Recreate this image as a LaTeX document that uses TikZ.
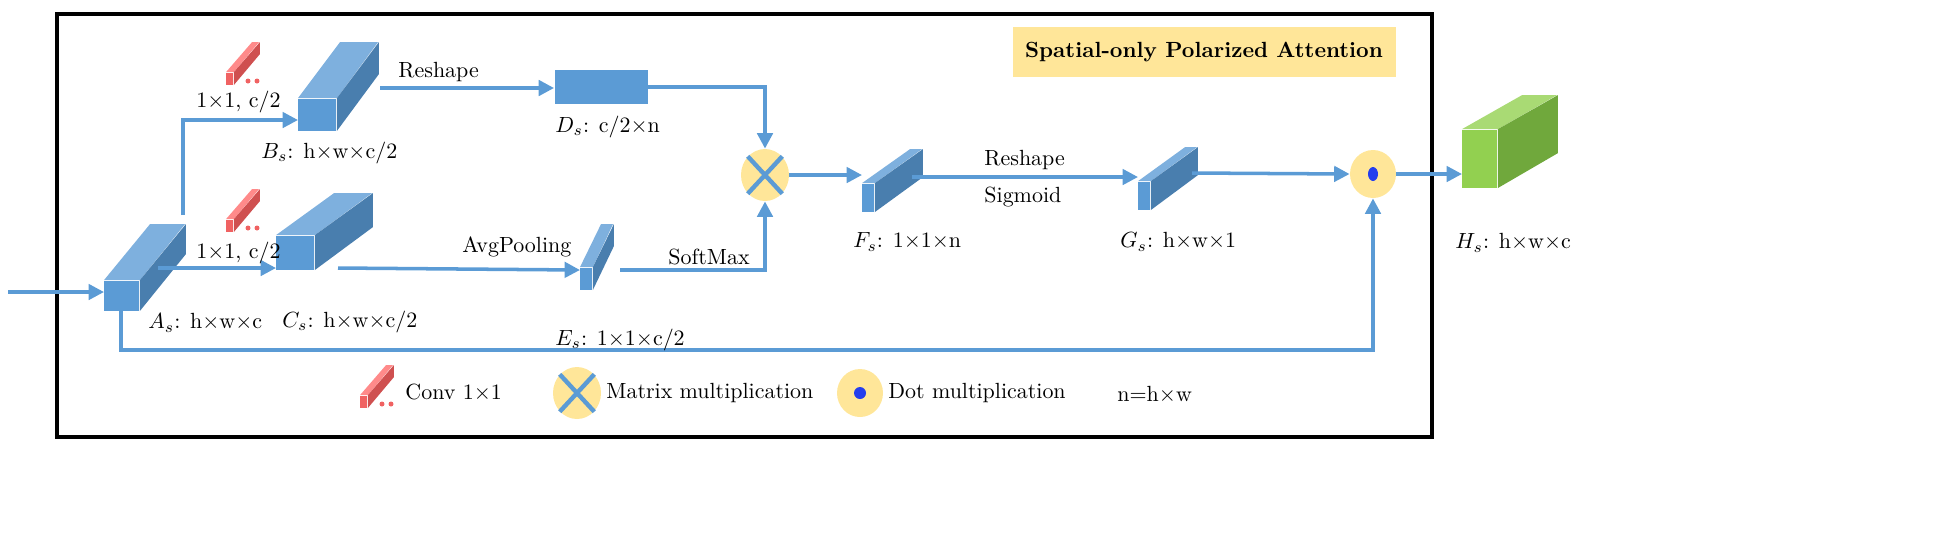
\documentclass[tikz,border=0pt]{standalone}
\usepackage{tikz}
\usetikzlibrary{positioning,arrows.meta,shapes.geometric,calc}

\definecolor{bfront}{HTML}{5B9BD5}
\definecolor{btop}{HTML}{7EB0DE}
\definecolor{bside}{HTML}{497EAE}
\definecolor{gfront}{HTML}{92D050}
\definecolor{gtop}{HTML}{A9DA74}
\definecolor{gside}{HTML}{70A83C}
\definecolor{rfront}{HTML}{F06262}
\definecolor{rtop}{HTML}{FF8A8A}
\definecolor{rside}{HTML}{CF5050}
\definecolor{pale}{HTML}{FFE699}
\newcommand{\px}{0.016cm}

% cuboid: name, x, y (front bottom-left), w, h, dx, dy (up), colour prefix
\newcommand{\cuboid}[8]{%
  \node[fill=#8front, inner sep=0, minimum width=#4*\px, minimum height=#5*\px,
        anchor=south west] (#1) at (#2,#3) {};
  \fill[#8top] (#1.north west) -- ++(#6,-#7) -- ++(#4,0) -- (#1.north east) -- cycle;
  \fill[#8side] (#1.north east) -- ++(#6,-#7) -- ++(0,#5) -- (#1.south east) -- cycle;
}
% conv icon with dots
\newcommand{\convicon}[3]{%
  \cuboid{#1}{#2}{#3}{7}{12}{26}{30}{r}
  \fill[rfront] (#2+22,#3-4) circle (2.5);
  \fill[rfront] (#2+31,#3-4) circle (2.5);
}

\begin{document}
\begin{tikzpicture}[x=\px,y=-\px,font=\fontsize{10}{12}\selectfont]
    \tikzstyle{flow}=[draw=bfront,line width=1.6pt,-{Triangle[length=7pt,width=7pt]}]
    \tikzstyle{op}=[ellipse,fill=pale,minimum width=48*\px,minimum height=52*\px,inner sep=0]
    \tikzstyle{cross}=[bfront,line width=2pt]
    \tikzstyle{lbl}=[anchor=west,inner sep=0]

    \useasboundingbox (0,0) rectangle (1950,559);
    \draw[line width=1.6pt] (57,14) rectangle (1432,437);
    \node[fill=pale,minimum width=383*\px,minimum height=50*\px,font=\fontsize{10}{12}\selectfont\bfseries]
        (title) at (1204,52) {Spatial-only Polarized Attention};

    % feature blocks
    \cuboid{A}{104}{311}{35}{30}{46}{56}{b}
    \cuboid{B}{298}{131}{38}{32}{42}{56}{b}
    \cuboid{C}{276}{270}{38}{34}{58}{42}{b}
    \node[fill=bfront,inner sep=0,minimum width=93*\px,minimum height=34*\px] (D) at (601,87) {};
    \cuboid{E}{580}{290}{12}{22}{21}{43}{b}
    \cuboid{F}{862}{212}{12}{28}{48}{34}{b}
    \cuboid{G}{1138}{210}{12}{28}{47}{34}{b}
    \cuboid{H}{1462}{188}{35}{58}{60}{34}{g}

    \convicon{k1}{226}{85}
    \convicon{k2}{226}{232}

    % operators
    \node[op] (mm) at (765,175) {};
    \draw[cross] (mm.north west) -- (mm.south east);
    \draw[cross] (mm.north east) -- (mm.south west);
    \node[op,minimum width=46*\px,minimum height=48*\px] (dm) at (1373,174) {};
    \fill[blue!60!bfront] (dm) ellipse (5 and 7);

    % connectors
    \coordinate (in) at (8,292);
    \coordinate (up) at (183,120);
    \coordinate (low) at (121,350);
    \draw[flow] (in) -- (in -| A.west);
    \draw[flow] (183,215) -- (up) -- (up -| B.west);
    \draw[flow] (158,268) -- (C.west |- 0,268);
    \draw[flow] (380,88) -- (D.west |- 0,88);
    \draw[flow] (338,268) -- (E.west |- 0,270);
    \draw[flow] (D.east |- 0,87) -- (mm.north |- 0,87) -- (mm.north);
    \draw[flow] (620,270) -- (mm.south |- 0,270) -- (mm.south);
    \draw[flow] (mm.east) -- (F.west |- mm.east);
    \draw[flow] (912,177) -- (G.west |- 0,177);
    \draw[flow] (1192,173) -- (dm.west);
    \draw[flow] (dm.east) -- (H.west |- dm.east);
    \draw[flow] (A.south -| low) -- (low) -- (dm.south |- low) -- (dm.south);

    % labels
    \node[lbl] at (196,102) {1$\times$1, c/2};
    \node[lbl] at (196,253) {1$\times$1, c/2};
    \node[lbl] at (398,72) {Reshape};
    \node[lbl] at (462,247) {AvgPooling};
    \node[lbl] at (668,257) {SoftMax};
    \node[lbl] at (984,160) {Reshape};
    \node[lbl] at (984,197) {Sigmoid};
    \node[lbl] at (148,323) {$A_s$: h$\times$w$\times$c};
    \node[lbl] at (261,153) {$B_s$: h$\times$w$\times$c/2};
    \node[lbl] at (282,322) {$C_s$: h$\times$w$\times$c/2};
    \node[lbl] at (555,127) {$D_s$: c/2$\times$n};
    \node[lbl] at (555,340) {$E_s$: 1$\times$1$\times$c/2};
    \node[lbl] at (853,242) {$F_s$: 1$\times$1$\times$n};
    \node[lbl] at (1120,242) {$G_s$: h$\times$w$\times$1};
    \node[lbl] at (1455,243) {$H_s$: h$\times$w$\times$c};

    % legend
    \convicon{k3}{360}{408}
    \node[lbl] at (405,393) {Conv 1$\times$1};
    \node[op] (lm) at (577,393) {};
    \draw[cross] (lm.north west) -- (lm.south east);
    \draw[cross] (lm.north east) -- (lm.south west);
    \node[lbl] at (606,393) {Matrix multiplication};
    \node[op,minimum width=46*\px,minimum height=48*\px] (ld) at (860,393) {};
    \fill[blue!60!bfront] (ld) circle (6);
    \node[lbl] at (888,393) {Dot multiplication};
    \node[lbl] at (1117,395) {n=h$\times$w};
\end{tikzpicture}
\end{document}
